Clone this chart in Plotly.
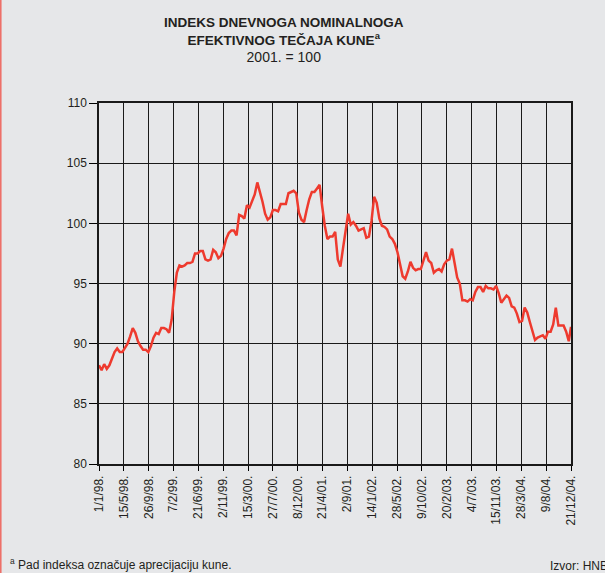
import pandas as pd
import plotly.graph_objects as go

# ---- data ----
index_values = [
    88.2, 87.8, 88.3, 87.9, 88.2, 88.8, 89.3, 89.6, 89.3, 89.3,
    89.6, 90.0, 90.6, 91.3, 90.9, 90.2, 89.8, 89.5, 89.5, 89.3,
    89.8, 90.5, 90.9, 90.8, 91.3, 91.3, 91.2, 90.9, 92.0, 94.3,
    95.9, 96.5, 96.4, 96.5, 96.7, 96.7, 96.8, 97.5, 97.5, 97.7,
    97.7, 97.0, 96.9, 97.0, 97.8, 97.6, 97.1, 97.3, 97.9, 98.7,
    99.2, 99.4, 99.4, 99.0, 100.7, 100.6, 100.4, 101.5, 101.3, 101.8,
    102.4, 103.4, 102.7, 101.8, 100.8, 100.3, 100.5, 101.1, 101.1, 101.0,
    101.6, 101.6, 101.6, 102.5, 102.6, 102.7, 102.5, 100.9, 100.3, 100.1,
    101.1, 102.0, 102.6, 102.6, 102.9, 103.2, 101.4, 99.8, 98.7, 98.9,
    98.9, 99.3, 97.0, 96.4, 97.9, 99.5, 100.8, 99.9, 100.1, 99.8,
    99.4, 99.5, 99.6, 98.8, 98.9, 100.2, 102.2, 101.7, 100.4, 99.8,
    99.7, 99.5, 98.9, 98.7, 98.3, 97.6, 96.7, 95.6, 95.4, 96.0,
    96.8, 96.3, 96.1, 96.2, 96.2, 97.0, 97.6, 96.9, 96.7, 95.9,
    96.1, 96.2, 96.0, 96.6, 96.9, 97.0, 97.9, 96.7, 95.5, 95.0,
    93.6, 93.6, 93.5, 93.7, 93.6, 94.3, 94.7, 94.7, 94.3, 94.8,
    94.6, 94.6, 94.5, 94.8, 94.2, 93.4, 93.7, 94.0, 93.8, 93.1,
    93.0, 92.5, 91.8, 91.9, 93.0, 92.6, 91.8, 91.1, 90.3, 90.5,
    90.6, 90.7, 90.4, 91.0, 91.0, 91.6, 93.0, 91.5, 91.5, 91.5,
    91.0, 90.2, 91.4,
]
sample_dates = list(pd.date_range("1998-01-01", "2004-12-21", freq="14D")) + [pd.Timestamp("2004-12-21")]

tick_dates = ["1998-01-01", "1998-05-15", "1998-09-26", "1999-02-07", "1999-06-21",
              "1999-11-02", "2000-03-15", "2000-07-27", "2000-12-08", "2001-04-21",
              "2001-09-02", "2002-01-14", "2002-05-28", "2002-10-09", "2003-02-20",
              "2003-07-04", "2003-11-15", "2004-03-28", "2004-08-09", "2004-12-21"]
tick_labels = ["1/1/98.", "15/5/98.", "26/9/98.", "7/2/99.", "21/6/99.",
               "2/11/99.", "15/3/00.", "27/7/00.", "8/12/00.", "21/4/01.",
               "2/9/01.", "14/1/02.", "28/5/02.", "9/10/02.", "20/2/03.",
               "4/7/03.", "15/11/03.", "28/3/04.", "9/8/04.", "21/12/04."]
y_ticks = [80, 85, 90, 95, 100, 105, 110]

BG = "#e6e7e9"
FONT = "Liberation Sans, Arial, Helvetica, sans-serif"
INK = "#231f20"

L, R, T, B = 99, 34, 103, 109
PW, PH = 605 - L - R, 573 - T - B


def px(xp):
    return (xp - L) / PW


def py(yp):
    return (573 - B - yp) / PH


fig = go.Figure()
fig.add_trace(go.Scatter(
    x=sample_dates, y=index_values, mode="lines",
    line=dict(color="#ee3a2e", width=2.5),
    showlegend=False, hoverinfo="skip",
))

fig.update_layout(
    width=605, height=573,
    paper_bgcolor=BG, plot_bgcolor=BG,
    margin=dict(l=L, r=R, t=T, b=B, autoexpand=False),
    font=dict(family=FONT, color=INK, size=12),
    showlegend=False,
)

fig.update_xaxes(
    type="date",
    range=["1998-01-01", "2004-12-21"],
    tickmode="array", tickvals=tick_dates, ticktext=tick_labels,
    tickangle=-90, ticks="outside", ticklen=5, tickcolor="#000",
    tickfont=dict(size=12, family=FONT, color=INK),
    showgrid=True, gridcolor="#1a1a1a", gridwidth=1,
    showline=True, linecolor="#1a1a1a", linewidth=1.5, mirror=True,
    zeroline=False,
)
fig.update_yaxes(
    range=[80, 110], tickvals=y_ticks,
    ticks="outside", ticklen=8, tickcolor="#000",
    tickfont=dict(size=12, family=FONT, color=INK),
    showgrid=True, gridcolor="#1a1a1a", gridwidth=1,
    showline=True, linecolor="#1a1a1a", linewidth=1.5, mirror=True,
    zeroline=False,
)

# Title
fig.add_annotation(
    xref="paper", yref="paper", x=px(284), y=py(13),
    xanchor="center", yanchor="top", showarrow=False, align="center",
    text="<b>INDEKS DNEVNOGA NOMINALNOGA<br>EFEKTIVNOG TEČAJA KUNE<sup>a</sup></b><br><span style='font-size:14px'>2001. = 100</span>",
    font=dict(size=13.5, family=FONT, color=INK),
)
# Footnote
fig.add_annotation(
    xref="paper", yref="paper", x=px(8), y=py(564),
    xanchor="left", yanchor="middle", showarrow=False, align="left",
    text="<sup>a</sup> Pad indeksa označuje aprecijaciju kune.",
    font=dict(size=12, family=FONT, color=INK),
)
fig.add_annotation(
    xref="paper", yref="paper", x=px(548), y=py(566),
    xanchor="left", yanchor="middle", showarrow=False, align="left",
    text="Izvor: HNB",
    font=dict(size=12, family=FONT, color=INK),
)
# Left page border
fig.add_shape(
    type="line", xref="paper", yref="paper",
    x0=px(0.8), x1=px(0.8), y0=py(573), y1=py(0),
    line=dict(color="#ee6b63", width=1.5),
)

fig.write_html(
    "out.html",
    config={"displayModeBar": False},
    post_script="document.body.style.margin='0';document.body.style.overflow='hidden';",
)
